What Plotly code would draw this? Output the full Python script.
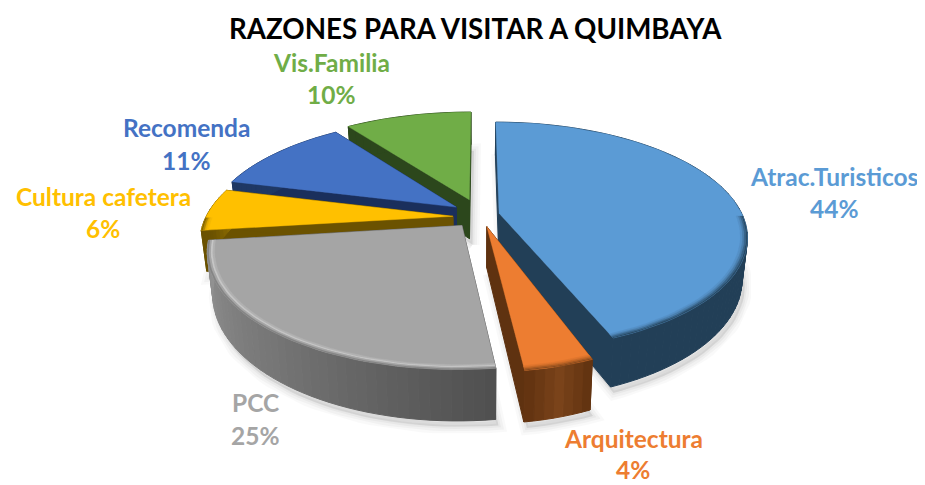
import math
import plotly.graph_objects as go

TITLE = "RAZONES PARA VISITAR A QUIMBAYA"
categories = ["Atrac.Turisticos", "Arquitectura", "PCC", "Cultura cafetera", "Recomenda", "Vis.Familia"]
values = [44, 4, 25, 6, 11, 10]
pulls = [0.083, 0.125, 0.13, 0.106, 0.113, 0.13]
rx_scale = [0.985, 0.90, 0.985, 1.0, 1.0, 1.0]
nudge_x = [0, 0, 3, 0, 0, 0]
nudge_y = [2, 0, 1, 4, 1, 0]
face_colors = ["#5B9BD5", "#ED7D31", "#A5A5A5", "#FFC000", "#4472C4", "#70AD47"]
# wall colour at start / middle / end of each slice's arc, and colour of its cut faces
wall_a = ["#223F57", "#5F3210", "#4F4F4F", "#6B5200", "#1F3864", "#2C471C"]
wall_m = ["#223F57", "#7A431A", "#757575", "#6B5200", "#1F3864", "#2C471C"]
wall_b = ["#223F57", "#603210", "#939393", "#8A6A00", "#1F3864", "#2C471C"]
cut_colors = ["#223F57", "#5F3210", "#5A5A5A", "#6B5200", "#1A2F5C", "#2C471C"]
rim_colors = ["#4A7FAE", "#C96A28", "#C6C6C6", "#E5AD00", "#3A62A8", "#5F943C"]
label_pos = [(834, 176, 208), (633, 438, 469), (255, 402, 435), (103, 196, 228), (186, 127, 160), (331, 62, 94)]
draw_order = [5, 4, 3, 2, 0, 1]

CX, CY, R, RY, K, H = 479, 213, 247, 110, 0.2, 40
PAGE_MARGIN = 8  # the browser's default body margin


def proj(u, v, z, i):
    s = 1 / (1 + K * v)
    return (CX + nudge_x[i] + R * u * s * (1 - 0.02 * z),
            CY + nudge_y[i] - RY * v * s + H * z * s)


def hexrgb(c):
    return tuple(int(c[i:i + 2], 16) for i in (1, 3, 5))


def mix(a, b, t):
    ra, rb = hexrgb(a), hexrgb(b)
    return "#%02X%02X%02X" % tuple(round(x + (y - x) * t) for x, y in zip(ra, rb))


def poly(fig, pts, color, lw=1.0):
    xs = [p[0] for p in pts] + [pts[0][0]]
    ys = [p[1] for p in pts] + [pts[0][1]]
    fig.add_trace(go.Scatter(x=xs, y=ys, mode="lines", fill="toself", fillcolor=color,
                             line=dict(color=color, width=lw), hoverinfo="skip", showlegend=False))


fig = go.Figure()

total = sum(values)
bounds = []
acc = 0
for v in values:
    bounds.append((acc / total * 2 * math.pi, (acc + v) / total * 2 * math.pi))
    acc += v


def geom(i):
    a0, a1 = bounds[i]
    mid = (a0 + a1) / 2
    ou, ov = pulls[i] * math.sin(mid), pulls[i] * math.cos(mid)
    n = max(6, int((a1 - a0) / 0.035))
    angs = [a0 + (a1 - a0) * j / n for j in range(n + 1)]
    return ou, ov, angs


def rim_point(i, ou, ov, a, r=1.0, z=0.0):
    return proj(ou + rx_scale[i] * r * math.sin(a), ov + r * math.cos(a), z, i)


# soft shadow under the pie
for i in draw_order:
    ou, ov, angs = geom(i)
    pts = [proj(ou, ov, 1, i)] + [rim_point(i, ou, ov, a, 1.0, 1) for a in angs]
    pts = [(x + 3, y + 6) for x, y in pts]
    for w, al in ((14, 0.025), (9, 0.03), (4, 0.035)):
        xs = [p[0] for p in pts] + [pts[0][0]]
        ys = [p[1] for p in pts] + [pts[0][1]]
        fig.add_trace(go.Scatter(x=xs, y=ys, mode="lines", fill="toself",
                                 fillcolor=f"rgba(0,0,0,{al})",
                                 line=dict(color=f"rgba(0,0,0,{al})", width=w),
                                 hoverinfo="skip", showlegend=False))

for i in draw_order:
    ou, ov, angs = geom(i)
    face = face_colors[i]
    ap_t, ap_b = proj(ou, ov, 0, i), proj(ou, ov, 1, i)
    # cut faces
    for a in (angs[0], angs[-1]):
        poly(fig, [ap_t, rim_point(i, ou, ov, a), rim_point(i, ou, ov, a, 1.0, 1), ap_b], cut_colors[i])
    # outer wall, shaded along the arc
    n = len(angs) - 1
    for j in range(n):
        a, b = angs[j], angs[j + 1]
        t = (j + 0.5) / n
        col = mix(wall_a[i], wall_m[i], t * 2) if t < 0.5 else mix(wall_m[i], wall_b[i], t * 2 - 1)
        poly(fig, [rim_point(i, ou, ov, a), rim_point(i, ou, ov, b),
                   rim_point(i, ou, ov, b, 1.0, 1), rim_point(i, ou, ov, a, 1.0, 1)], col)
    # top face
    poly(fig, [ap_t] + [rim_point(i, ou, ov, a) for a in angs], face, 0.4)
    # bevelled rim on the front part of the arc
    front = [a for a in angs if math.cos(a) < 0.0]
    if len(front) > 1:
        mid_wall = wall_m[i]
        stops = [(0.972, 0.98, mix(face, rim_colors[i], 0.35)), (0.98, 0.987, rim_colors[i]),
                 (0.987, 0.994, mix(rim_colors[i], mid_wall, 0.4)), (0.994, 1.0, mix(rim_colors[i], mid_wall, 0.8))]
        for r0, r1, col in stops:
            outer = [rim_point(i, ou, ov, a, r1) for a in front]
            inner = [rim_point(i, ou, ov, a, r0) for a in reversed(front)]
            poly(fig, outer + inner, col, 0.2)

annotations = [dict(x=475, y=28, text=f"<b>{TITLE}</b>", showarrow=False, xref="x", yref="y",
                    font=dict(family="Lato", size=27.7, color="#000000"))]
for i, name in enumerate(categories):
    xp, y1, y2 = label_pos[i]
    annotations.append(dict(x=xp, y=y1, text=f"<b>{name}</b>", showarrow=False, xref="x", yref="y",
                            font=dict(family="Lato", size=24.5, color=face_colors[i])))
    annotations.append(dict(x=xp, y=y2, text=f"<b>{values[i]}%</b>", showarrow=False, xref="x", yref="y",
                            font=dict(family="Lato", size=24.5, color=face_colors[i])))

fig.update_layout(
    width=925 - PAGE_MARGIN, height=485 - PAGE_MARGIN, margin=dict(l=0, r=0, t=0, b=0),
    paper_bgcolor="#FFFFFF", plot_bgcolor="#FFFFFF", showlegend=False,
    xaxis=dict(range=[PAGE_MARGIN, 925], visible=False, fixedrange=True),
    yaxis=dict(range=[485, PAGE_MARGIN], visible=False, fixedrange=True),
    annotations=annotations,
)
fig.write_html("out.html", config=dict(displayModeBar=False))
